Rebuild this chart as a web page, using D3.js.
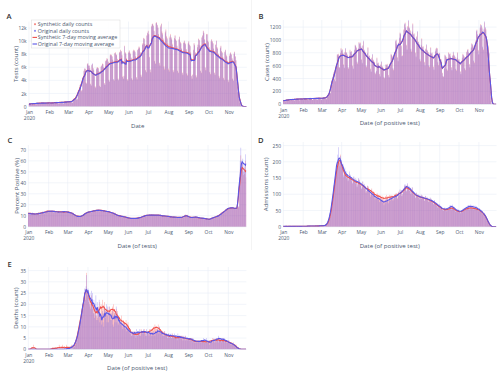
<!DOCTYPE html>
<html><head><meta charset="utf-8">
<script src="https://cdn.jsdelivr.net/npm/d3@7"></script>
<style>body{margin:0;background:#fff}svg{display:block;font-family:"Open Sans",sans-serif}</style>
</head><body><svg id="c" width="500" height="379"></svg>
<script>
// ---------- data (daily, 2020-01-01 .. 2020-11-28) ----------
const startDay = [2020, 0, 1];
const monthTicks = ["2020-01-01","2020-02-01","2020-03-01","2020-04-01","2020-05-01","2020-06-01","2020-07-01","2020-08-01","2020-09-01","2020-10-01","2020-11-01"];
const monthLabels = ["Jan","Feb","Mar","Apr","May","Jun","Jul","Aug","Sep","Oct","Nov"];
const yearLabel = "2020";

// Tests (thousands)
const testsOrig = [.4,.4,.4,.3,.3,.5,.5, .5,.5,.5,.4,.3,.5,.5, .6,.5,.5,.4,.4,.6,.5, .6,.6,.5,.4,.4,.6,.5, .6,.6,.6,.4,.4,.6,.6, .6,.6,.6,.4,.4,.6,.6, .7,.7,.6,.5,.4,.7,.7, .7,.7,.6,.5,.5,.7,.7, .8,.8,.7,.5,.5,.8,.8, .8,.8,.8,.6,.6,1,1.1,
1.3,1.4,1.5,1,1.1,2.2,2.4, 2.9,3.2,3.4,2.3,2.5,4.3,4.6, 5.4,5.8,5.7,3.6,3.5,6.4,6.6, 6.3,6.2,5.8,3.4,3.2,6.4,6.6, 5.8,5.6,4.6,3,2.8,5.8,5.9, 5.9,5.8,5.4,3.1,3,6,6.2, 6.5,6.4,6,3.5,3.3,6.9,7, 7.3,7.2,6.8,4,3.8,7.8,7.9, 7.8,7.6,7.1,4.2,3.9,8.1,8.2, 7.9,7.8,7.2,4.2,4,8.2,8.3,
8.6,8.4,7.8,4.5,4.2,4.6,9.2, 8.2,8,7.3,4.1,3.9,8.2,8.5, 8.2,8,7.4,4.3,4,8.4,8.6, 8.5,8.3,7.6,4.4,4.1,8.6,8.8, 9.1,8.9,8.2,4.8,4.5,9.4,9.6, 10.4,10.3,9.5,5.5,5.2,10.8,11.2, 11.5,11,7.5,5.6,5.2,12.2,12.5, 12.6,12.3,11.5,6.9,6.5,12.7,12.8, 12.4,12,11,6.6,6.2,12.2,12.6, 11.3,11,10.2,6,5.6,11.2,11.6,
10.6,10.3,9.5,5.6,5.3,10.5,10.9, 10.5,10.2,9.4,5.5,5.2,10.4,10.8, 10.2,10,9.2,5.4,5.1,10.2,10.6, 9.8,9.6,8.8,5.1,4.8,9.7,10, 9.7,9.5,8.7,5,4.7,9.6,9.9, 9.4,9.2,8.2,4.6,4.2,4.8,8.6, 9.6,9.3,8.2,4.7,4.4,9,9.4, 10.3,10.1,9.3,5.4,5.1,10.5,10.8, 11.5,11.2,10.2,5.9,5.5,11,11, 10,9.8,9,5.2,4.9,9.9,10.2,
9.9,9.6,8.8,5.1,4.8,9.4,10, 9,8.8,8,4.6,4.3,8.9,9.2, 8.4,8.2,7.5,4.3,4,8.3,8.6, 7.8,7.6,6.9,4,3.7,7.7,8, 8.2,7.9,7.3,4.2,3.9,8,8.3, 7.6,7,5.8,3,2.2,2.5,1.2, .6,.2,.1,0,0,0,0, 0,0,0,0];
const testsSyn = [.4,.5,.4,.3,.3,.5,.5, .5,.5,.4,.4,.3,.5,.6, .5,.6,.5,.4,.4,.6,.6, .6,.6,.6,.4,.4,.5,.6, .6,.7,.6,.4,.4,.6,.6, .6,.6,.6,.5,.4,.6,.7, .7,.6,.6,.5,.5,.7,.7, .7,.7,.7,.5,.4,.7,.8, .8,.8,.7,.6,.5,.8,.8, .8,.9,.8,.6,.6,1.1,1.2,
1.3,1.5,1.6,1.1,1.1,2.3,2.5, 3,3.3,3.5,2.4,2.5,4.4,4.7, 5.5,5.8,5.8,3.7,3.5,6.5,6.6, 6.2,6.3,5.9,3.5,3.2,6.3,6.5, 5.9,5.5,4.7,3.1,2.9,5.7,6, 6,5.9,5.3,3.2,3,6.1,6.3, 6.6,6.5,5.9,3.6,3.3,7,7.1, 7.4,7.3,6.9,4.1,3.8,7.9,8, 7.9,7.7,7.2,4.1,4,8.2,8.3, 8,7.9,7.3,4.3,4,8.3,8.4,
8.7,8.5,7.9,4.6,4.3,4.7,9.3, 8.3,8.1,7.4,4.2,4,8.3,8.6, 8.3,8.1,7.5,4.3,4.1,8.5,8.7, 8.6,8.4,7.7,4.5,4.2,8.7,8.9, 9.2,9,8.3,4.9,4.6,9.5,9.7, 10.5,10.4,9.6,5.6,5.3,10.9,11.3, 11.6,11.1,7.6,5.7,5.3,12.3,12.6, 12.7,12.4,11.6,7,6.6,12.8,12.9, 12.5,12.1,11.1,6.7,6.3,12.4,12.7, 11.5,11.2,10.4,6.2,5.8,11.4,11.8,
10.8,10.5,9.7,5.8,5.5,10.7,11.1, 10.6,10.3,9.6,5.6,5.3,10.5,10.9, 10.3,10.1,9.3,5.5,5.2,10.3,10.7, 9.9,9.7,8.9,5.2,4.9,9.8,10.1, 9.8,9.6,8.8,5.1,4.8,9.7,10, 9.5,9.3,8.3,4.7,4.3,4.9,8.7, 9.7,9.4,8.3,4.8,4.5,9.1,9.5, 10.4,10.2,9.4,5.5,5.2,10.6,10.9, 11.6,11.3,10.3,6,5.6,11.1,11.1, 10.1,9.9,9.1,5.3,5,10,10.3,
10,9.7,8.9,5.2,4.9,9.5,10.1, 9.1,8.9,8.1,4.7,4.4,9,9.3, 8.5,8.3,7.6,4.4,4.1,8.4,8.7, 7.9,7.7,7,4.1,3.8,7.8,8.1, 8.3,8,7.4,4.3,4,8.1,8.4, 7.7,7.1,5.9,3.1,2.3,2.6,1.3, .6,.3,.1,0,0,0,0, 0,0,0,0];

// Cases
const casesOrig = [55,66,63,48,45,63,69, 77,77,74,56,53,74,81, 83,82,79,60,56,79,86, 88,88,84,64,60,84,92, 90,90,86,66,62,86,94, 94,93,89,68,64,89,98, 97,97,92,70,66,92,101, 99,99,95,72,68,95,104, 101,101,97,74,69,97,106, 104,106,103,80,78,112,125,
140,165,190,170,180,320,370, 430,470,500,380,360,560,620, 760,780,770,580,560,800,860, 840,840,800,610,570,800,875, 800,800,760,580,545,760,835, 815,815,780,590,555,780,850, 913,913,872,664,623,872,955, 946,946,903,688,645,903,989, 836,836,798,608,570,798,874, 748,748,714,544,510,714,782,
682,682,651,496,465,520,713, 638,638,609,464,435,609,667, 583,583,557,424,398,557,610, 616,616,588,448,420,588,644, 770,770,735,560,525,735,805, 990,990,945,720,675,945,1035, 1100,1100,900,750,750,1050,1150, 1254,1254,1197,912,855,1197,1311, 1188,1188,1134,864,810,1134,1242, 1089,1089,1040,792,743,1040,1139,
968,968,924,704,660,924,1012, 891,891,851,648,608,851,932, 836,836,798,608,570,798,874, 792,792,756,576,540,756,828, 850,880,860,660,600,800,780, 700,690,640,480,440,420,560, 759,759,725,552,518,725,794, 781,781,746,568,533,746,817, 759,759,725,552,518,725,794, 693,693,662,504,473,662,725,
770,770,735,560,525,735,805, 847,847,809,616,578,809,886, 935,935,893,680,638,893,978, 1144,1144,1092,832,780,1092,1196, 1232,1232,1176,896,840,1176,1288, 1200,1150,1050,800,700,900,800, 400,200,50,0,0,0,0, 0,0,0,0];
const casesSyn = [58,63,66,45,48,60,72, 74,80,71,59,50,77,78, 86,79,82,57,59,76,89, 85,91,81,67,57,87,89, 93,87,89,63,65,83,97, 91,96,86,71,61,92,95, 100,94,95,67,69,89,104, 96,102,92,75,65,98,101, 104,98,100,71,72,94,109, 101,109,100,83,75,115,122,
145,160,196,165,185,312,378, 422,481,492,390,352,572,610, 775,768,785,570,572,788,875, 828,855,790,622,560,815,862, 812,788,772,570,556,748,848, 802,828,768,602,545,792,838, 925,900,885,652,635,860,968, 932,960,890,700,632,918,975, 850,822,810,596,582,785,888, 735,760,702,555,500,726,770,
695,670,662,488,474,510,725, 626,650,598,472,427,620,655, 595,572,568,416,406,546,622, 605,628,578,456,412,600,632, 785,758,748,552,535,722,818, 975,1005,930,732,665,960,1020, 1115,1085,915,740,762,1035,1165, 1238,1270,1180,925,842,1215,1295, 1205,1172,1150,852,822,1118,1258, 1072,1105,1025,805,730,1056,1122,
982,955,938,692,672,910,1026, 878,905,838,660,596,865,918, 850,822,812,596,582,785,888, 780,805,744,588,530,768,815, 865,868,875,648,612,788,795, 688,702,628,490,432,428,548, 772,746,738,542,528,712,808, 768,795,734,578,524,760,805, 772,746,738,542,528,712,808, 680,705,650,512,465,675,712,
785,758,748,552,535,722,818, 835,860,795,628,568,822,872, 950,920,908,668,650,880,992, 1128,1160,1075,845,768,1108,1180, 1248,1215,1192,882,852,1160,1272, 1185,1168,1035,815,688,915,785, 410,190,55,0,0,0,0, 0,0,0,0];

// Percent positive
const pctOrig = [12,13,11,12,12,11,13, 11,12,12,11,11,12,11, 12,12,13,12,11,12,12, 13,13,14,12,13,13,13, 14,15,14,13,14,14,15, 14,14,15,14,13,14,14, 14,13,13,14,13,14,13, 13,14,13,14,13,14,14, 14,13,14,13,13,14,13, 13,13,12,12,13,12,12,
11,10,10,9,10,10,9, 9,9,10,9,9,10,10, 11,11,12,12,12,13,13, 13,14,13,14,13,14,14, 14,15,14,15,14,15,14, 15,15,16,15,14,15,15, 15,14,15,14,15,14,14, 14,14,14,13,14,14,13, 13,13,12,12,13,12,12, 11,11,10,10,11,10,10,
10,9,10,9,9,10,9, 9,8,9,8,9,8,8, 8,7,8,7,8,7,8, 7,8,7,8,7,8,7, 8,8,9,8,9,9,8, 9,10,10,10,10,10,11, 10,11,11,10,10,11,11, 11,10,11,10,11,10,11, 10,11,10,11,10,11,10, 10,10,10,9,10,10,10,
10,9,10,9,9,10,9, 9,9,9,8,9,9,9, 8,9,8,9,8,9,8, 8,9,9,8,9,8,9, 10,10,11,10,10,10,9, 9,8,9,8,9,8,8, 9,9,8,9,9,9,9, 8,8,8,8,8,8,8, 8,7,8,7,7,8,7, 7,7,7,6,7,7,7,
8,8,9,8,9,9,8, 9,10,10,10,10,10,11, 12,12,13,13,14,13,14, 15,16,16,17,17,17,17, 17,17,17,18,17,17,17, 17,16,16,17,18,17,19, 45,60,72,55,58,62,50, 58,54,66,52];
const pctSyn = [13,12,12,11,13,12,12, 12,11,12,12,11,11,12, 12,13,12,11,12,13,12, 13,14,13,13,12,14,13, 15,14,14,14,15,13,14, 14,15,14,13,14,15,14, 13,14,14,13,14,13,14, 14,13,14,13,14,13,13, 13,14,13,14,14,13,14, 12,13,13,12,12,13,12,
10,11,10,10,9,10,10, 10,9,9,10,9,9,10, 11,12,11,12,13,12,13, 14,13,14,13,14,13,14, 15,14,15,14,15,14,15, 15,16,15,14,15,15,16, 14,15,14,15,14,15,14, 14,13,14,14,13,14,14, 12,13,12,13,12,12,13, 10,11,11,10,10,11,10,
9,10,9,10,9,9,10, 8,9,8,9,8,9,8, 7,8,7,8,7,8,7, 8,7,8,7,8,7,8, 9,8,8,9,8,8,9, 10,9,10,11,10,10,10, 11,10,10,11,11,10,11, 10,11,10,11,10,11,10, 11,10,11,10,11,10,11, 9,10,10,10,9,10,10,
9,10,9,10,9,9,10, 9,8,9,9,9,8,9, 9,8,9,8,9,8,9, 9,8,8,9,8,9,8, 10,11,10,10,11,9,10, 8,9,8,9,8,9,8, 9,8,9,9,8,9,9, 8,8,8,7,8,8,8, 7,8,7,8,7,7,8, 7,6,7,7,7,6,7,
9,8,8,9,8,8,9, 10,9,10,10,11,10,10, 13,13,12,14,13,14,13, 16,15,17,16,17,16,17, 17,18,17,17,16,18,17, 16,17,16,16,17,18,18, 40,52,65,50,54,58,47, 52,48,60,45];

// Admissions
const admOrig = [1,0,1,2,1,1,0, 1,1,0,1,2,1,1, 0,1,1,1,2,1,1, 1,1,2,1,0,1,1, 1,2,1,1,1,2,1, 2,1,2,2,1,2,3, 2,2,1,3,2,2,2, 2,3,2,1,2,3,2, 3,2,3,3,2,4,3, 3,3,4,4,5,7,9,
15,22,30,38,48,60,72, 90,110,128,140,155,170,185, 200,222,245,198,186,218,206, 205,182,194,158,166,182,168, 170,152,162,142,150,170,155, 160,144,152,135,142,155,142, 150,136,145,124,132,150,138, 145,128,136,118,124,140,126, 132,120,124,104,110,126,112, 120,104,110,92,100,114,100,
104,94,100,84,88,86,96, 94,84,90,76,82,88,80, 84,74,80,66,72,82,72, 90,80,86,72,78,90,80, 95,88,94,80,86,97,88, 100,94,100,86,92,106,96, 115,106,113,95,102,118,108, 130,122,130,110,118,134,124, 126,112,120,102,110,122,108, 110,97,105,90,96,105,93,
100,90,97,84,90,99,87, 96,86,92,80,86,95,83, 92,82,88,76,82,90,79, 86,76,82,70,76,82,71, 76,66,72,60,65,70,60, 65,57,61,52,55,50,58, 59,52,57,49,53,59,53, 65,60,67,56,61,68,62, 61,53,57,47,51,55,47, 53,45,50,42,46,51,45,
55,51,58,50,55,61,56, 65,60,67,56,61,68,61, 67,58,66,55,59,65,57, 63,55,59,49,53,57,49, 53,45,49,39,42,43,35, 37,30,30,20,19,15,9, 6,3,1,0,0,0,0, 0,0,0,0];
const admSyn = [0,1,1,1,2,0,1, 1,2,1,0,1,1,2, 1,1,0,2,1,1,1, 2,1,1,1,1,2,1, 1,1,2,1,2,1,2, 1,2,2,1,2,3,2, 3,2,2,2,1,3,2, 2,2,3,2,3,2,3, 3,3,2,4,3,3,4, 4,3,4,5,4,6,8,
11,16,22,30,40,52,63, 78,96,112,128,142,158,172, 182,198,212,206,198,222,200, 196,178,188,152,160,170,162, 162,148,158,140,146,162,150, 155,140,150,132,140,152,140, 145,132,142,122,130,146,135, 142,126,134,116,122,138,125, 130,118,124,106,112,126,115, 124,110,116,98,106,118,108,
110,100,106,90,95,92,102, 102,92,98,84,90,96,88, 96,84,92,78,84,94,82, 98,88,94,80,86,98,90, 98,90,96,82,90,100,92, 102,96,104,88,94,108,98, 112,104,112,94,100,116,106, 126,118,126,108,114,130,120, 122,110,118,100,108,120,106, 108,96,104,88,94,104,92,
100,90,96,84,88,98,86, 95,86,92,80,85,94,83, 90,82,86,76,80,88,78, 84,74,80,68,74,80,70, 74,64,70,58,63,68,58, 63,56,60,50,54,49,56, 57,50,55,47,51,57,51, 60,55,61,51,56,62,57, 58,51,55,45,49,53,45, 51,44,48,41,44,49,44,
53,49,55,48,52,58,53, 60,55,61,51,56,62,56, 62,54,61,51,55,60,53, 60,52,56,47,51,55,47, 52,44,48,38,41,42,34, 36,29,28,20,18,14,8, 5,3,1,0,0,0,0, 0,0,0,0];

// Deaths
const deathOrig = [0,0,0,0,0,0,0, 0,0,0,0,0,0,0, 0,0,0,0,0,0,0, 0,0,0,0,0,0,0, 0,0,0,0,0,0,0, 0,0,0,0,0,0,0, 0,0,0,0,0,0,0, 0,0,0,0,0,0,0, 0,0,1,0,0,0,1, 0,1,0,1,1,2,1,
2,3,2,4,5,6,7, 8,10,12,13,15,18,20, 20,23,27,22,28,33,25, 27,23,20,25,18,26,21, 25,16,22,14,20,24,13, 21,13,18,22,12,15,14, 11,17,12,10,19,18,14, 20,12,19,12,17,19,13, 16,13,17,11,10,16,12, 17,19,12,16,11,12,14,
12,11,13,10,9,11,12, 10,9,11,8,9,10,8, 8,7,9,6,7,8,7, 7,8,6,7,9,6,8, 8,7,9,6,8,7,8, 8,9,7,8,6,9,8, 7,8,6,7,9,7,6, 7,6,8,7,6,8,7, 8,9,7,8,10,7,8, 7,8,6,7,6,8,7,
6,7,6,5,7,6,7, 6,5,7,6,5,6,7, 6,5,6,5,7,5,6, 5,6,5,6,4,5,6, 5,4,6,5,4,5,5, 5,4,5,4,5,4,5, 4,3,4,4,3,4,3, 4,3,4,3,4,3,4, 4,5,4,3,4,4,5, 3,4,3,2,3,3,4,
4,3,4,5,4,4,3, 5,4,5,6,5,4,5, 4,5,4,5,4,5,4, 4,3,4,3,4,3,3, 3,2,3,2,2,3,2, 2,1,1,1,0,1,0, 0,0,0,0,0,0,0, 0,0,0,0];
const deathSyn = [0,0,0,0,0,0,1, 1,2,1,0,0,0,0, 0,0,0,0,0,0,0, 0,0,0,0,0,0,0, 0,0,0,0,0,0,0, 0,0,1,0,1,0,0, 1,0,1,1,0,2,0, 1,1,0,2,1,0,1, 1,0,2,1,0,1,1, 1,0,1,2,0,1,2,
1,2,3,3,5,7,8, 9,11,13,14,16,17,19, 20,23,24,26,27,34,24, 25,21,24,19,21,24,20, 18,20,16,19,15,18,15, 14,17,19,16,21,15,20, 18,22,16,19,21,18,17, 16,18,15,17,19,16,18, 16,17,19,18,20,17,16, 15,18,14,17,12,15,13,
13,12,15,11,12,13,12, 12,10,13,9,11,12,10, 8,9,7,8,6,7,8, 6,7,8,5,7,6,7, 7,8,6,7,9,8,7, 8,7,9,8,7,6,8, 8,7,8,9,7,8,9, 9,8,10,9,11,10,9, 10,9,11,8,10,9,8, 8,7,8,6,7,8,6,
6,7,5,6,7,5,6, 6,5,6,7,5,6,5, 5,6,5,4,6,5,5, 6,5,6,5,6,5,4, 5,6,4,5,5,4,5, 4,5,4,5,4,5,3, 4,3,4,3,4,3,4, 3,4,3,4,3,4,3, 4,3,4,3,3,4,3, 3,4,3,4,3,3,4,
4,5,4,4,3,4,5, 4,5,4,3,4,5,4, 4,3,4,5,4,3,4, 4,3,4,3,3,4,3, 3,2,3,2,3,2,2, 2,1,2,1,0,1,0, 0,0,0,0,0,0,0, 0,0,0,0];

const testsTicks = [0,2,4,6,8,10,12], testsTickLabels = ["0","2k","4k","6k","8k","10k","12k"];
const casesTicks = [0,200,400,600,800,1000,1200];
const pctTicks = [0,10,20,30,40,50,60,70];
const admTicks = [0,50,100,150,200,250];
const deathTicks = [0,5,10,15,20,25,30,35];
const legendLabels = ["Synthetic daily counts","Original daily counts","Synthetic 7-day moving average","Original 7-day moving average"];

// ---------- styles ----------
const synColor = "#f0504a", origColor = "#5a56e6";
const synBar = "#ff5e55", origBar = "#7566ee", barOpacity = 0.5;
const textColor = "#4a5870", gridColor = "#e9eef6";
const tickFont = 4.9, titleFont = 6.1;

const svg = d3.select("#c");
const nDays = testsOrig.length;
const days = d3.range(nDays).map(i => new Date(startDay[0], startDay[1], startDay[2] + i));
const monthDates = monthTicks.map(s => d3.timeParse("%Y-%m-%d")(s));

function movingAvg(a){
  return a.map((v,i)=>{ const w=a.slice(Math.max(0,i-3), Math.min(a.length,i+4)); return d3.mean(w); });
}

const panels = [
  {id:"A", orig:testsOrig, syn:testsSyn, ticks:testsTicks, fmt:(d,i)=>testsTickLabels[i], yMax:13, x0:28.6, x1:246.8, top:21.5, bot:106.5, yTitle:"Tests (count)", xTitle:"Date", tx:18.2, lx:6.5, ly:18.5, legend:true},
  {id:"B", orig:casesOrig, syn:casesSyn, ticks:casesTicks, fmt:d=>String(d), yMax:1310, x0:283, x1:496.5, top:20, bot:104.2, yTitle:"Cases (count)", xTitle:"Date (of positive test)", tx:268.6, lx:258.5, ly:19},
  {id:"C", orig:pctOrig, syn:pctSyn, ticks:pctTicks, fmt:d=>String(d), yMax:74.5, x0:28, x1:246.4, top:145, bot:226.7, yTitle:"Percent Positive (%)", xTitle:"Date (of tests)", tx:18.6, lx:7.5, ly:142.5},
  {id:"D", orig:admOrig, syn:admSyn, ticks:admTicks, fmt:d=>String(d), yMax:261, x0:283, x1:496.5, top:142, bot:226.7, yTitle:"Admissions (count)", xTitle:"Date (of positive test)", tx:268.2, lx:258, ly:143},
  {id:"E", orig:deathOrig, syn:deathSyn, ticks:deathTicks, fmt:d=>String(d), yMax:36.6, x0:28, x1:246.4, top:267, bot:349.3, yTitle:"Deaths (count)", xTitle:"Date (of positive test)", tx:18.2, lx:7.5, ly:266.5}
];

svg.append("line").attr("x1",251.5).attr("x2",251.5).attr("y1",0).attr("y2",250).attr("stroke","#ececec").attr("stroke-width",0.6);

panels.forEach(p => {
  const g = svg.append("g");
  const x = d3.scaleTime().domain([new Date(2019,11,31,12), new Date(2020,10,28,12)]).range([p.x0, p.x1]);
  const y = d3.scaleLinear().domain([0, p.yMax]).range([p.bot, p.top]);
  const dw = x(days[1]) - x(days[0]), bw = dw * 0.85;

  // grid
  g.selectAll(".vg").data(monthDates).join("line").attr("x1",d=>x(d)).attr("x2",d=>x(d)).attr("y1",p.top).attr("y2",p.bot).attr("stroke",gridColor).attr("stroke-width",0.6);
  g.selectAll(".hg").data(p.ticks).join("line").attr("x1",p.x0).attr("x2",p.x1).attr("y1",d=>y(d)).attr("y2",d=>y(d)).attr("stroke",gridColor).attr("stroke-width",d=>d===0?1.2:0.6);

  const cid = "clip" + p.id;
  svg.append("clipPath").attr("id",cid).append("rect").attr("x",p.x0).attr("y",p.top-4).attr("width",p.x1-p.x0).attr("height",p.bot-p.top+4);
  const pg = g.append("g").attr("clip-path",`url(#${cid})`);

  [[p.syn, synBar],[p.orig, origBar]].forEach(([arr,col]) => {
    pg.append("g").selectAll("rect").data(arr).join("rect")
      .attr("x",(d,i)=>x(days[i]) - bw/2).attr("width",bw)
      .attr("y",d=>y(d)).attr("height",d=>y(0)-y(d))
      .attr("fill",col).attr("fill-opacity",barOpacity);
  });
  const line = d3.line().x((d,i)=>x(days[i])).y(d=>y(d));
  pg.append("path").datum(movingAvg(p.syn)).attr("d",line).attr("fill","none").attr("stroke",synColor).attr("stroke-width",1.1);
  pg.append("path").datum(movingAvg(p.orig)).attr("d",line).attr("fill","none").attr("stroke",origColor).attr("stroke-width",1.1);

  // axes
  const ya = g.append("g").attr("transform",`translate(${p.x0},0)`)
    .call(d3.axisLeft(y).tickValues(p.ticks).tickFormat(p.fmt).tickSize(0).tickPadding(2));
  ya.select(".domain").remove();
  ya.attr("font-size",null).attr("font-family",null);
  ya.selectAll("text").attr("font-size",tickFont).attr("fill",textColor);

  const xa = g.append("g").attr("transform",`translate(0,${p.bot})`)
    .call(d3.axisBottom(x).tickValues(monthDates).tickFormat((d,i)=>monthLabels[i]).tickSize(0).tickPadding(4.2));
  xa.select(".domain").remove();
  xa.attr("font-size",null).attr("font-family",null);
  xa.selectAll("text").attr("font-size",tickFont).attr("fill",textColor);
  xa.selectAll(".tick").filter((d,i)=>i===0).append("text").attr("y",10).attr("dy","0.71em").attr("font-size",tickFont).attr("fill",textColor).text(yearLabel);

  // titles
  g.append("text").attr("x",(p.x0+p.x1)/2).attr("y",p.bot+21).attr("text-anchor","middle").attr("font-size",titleFont).attr("fill",textColor).text(p.xTitle);
  g.append("text").attr("transform",`translate(${p.tx},${(p.top+p.bot)/2}) rotate(-90)`).attr("text-anchor","middle").attr("font-size",titleFont).attr("fill",textColor).text(p.yTitle);
  g.append("text").attr("x",p.lx).attr("y",p.ly).attr("font-size",7.6).attr("font-weight",600).attr("fill","#333").text(p.id);

  if (p.legend) {
    const lg = g.append("g").attr("transform","translate(31.5,20)");
    lg.append("rect").attr("width",88.5).attr("height",28).attr("fill","#fff").attr("fill-opacity",0.85).attr("stroke","#d9d9d9").attr("stroke-width",0.5);
    const cols = [synColor, origColor, synColor, origColor];
    legendLabels.forEach((t,i) => {
      const cy = 4.2 + i*6.6;
      if (i < 2) lg.append("rect").attr("x",2.6).attr("y",cy-0.9).attr("width",1.8).attr("height",1.8).attr("fill",cols[i]).attr("fill-opacity",0.7);
      else lg.append("line").attr("x1",1).attr("x2",5.5).attr("y1",cy).attr("y2",cy).attr("stroke",cols[i]).attr("stroke-width",1.1);
      lg.append("text").attr("x",6.3).attr("y",cy).attr("dy","0.35em").attr("font-size",5.4).attr("fill",textColor).text(t);
    });
  }
});
</script></body></html>
